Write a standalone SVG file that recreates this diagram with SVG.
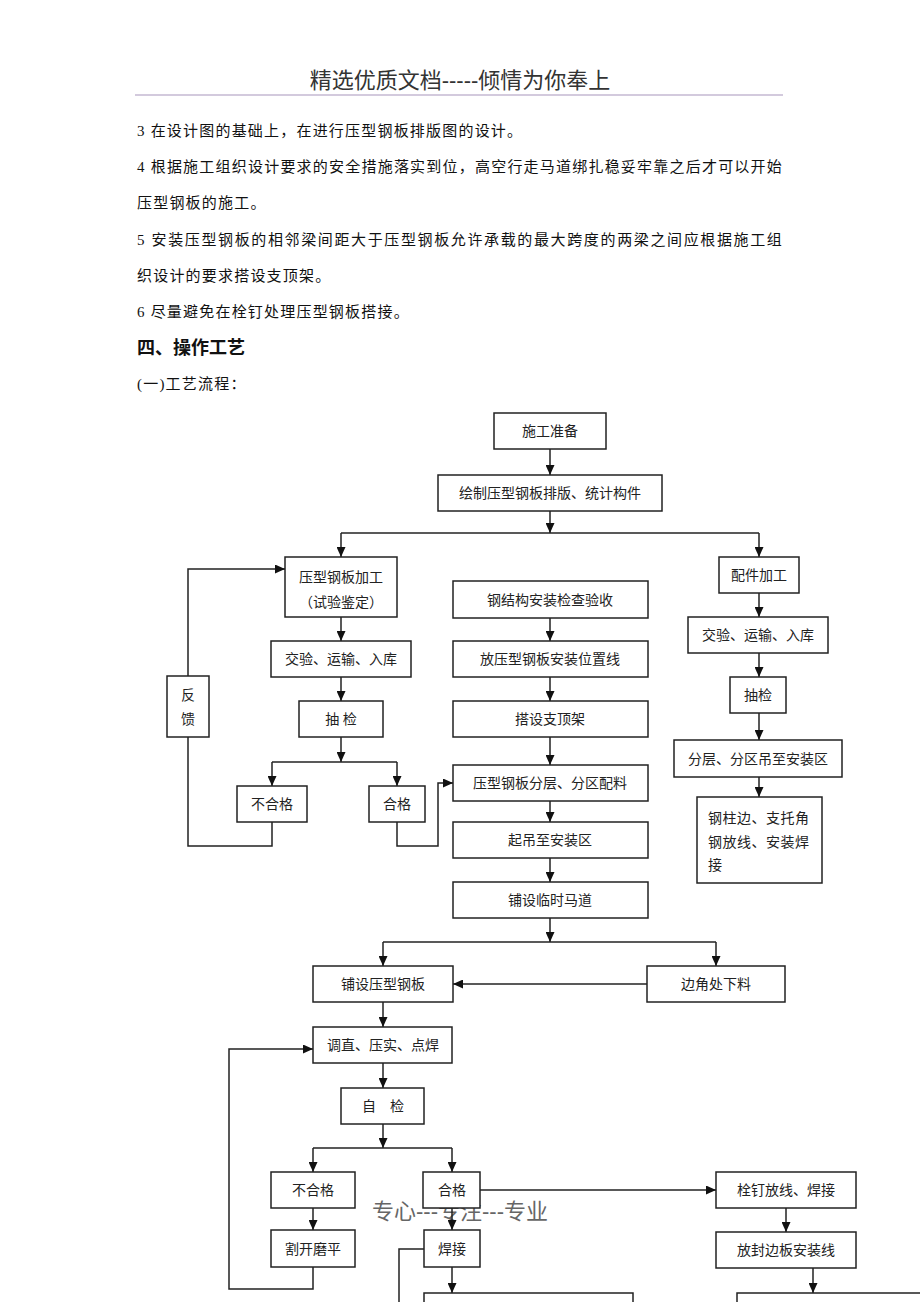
<svg xmlns="http://www.w3.org/2000/svg" width="920" height="1302" viewBox="0 0 920 1302">
<style>
.body{font-family:"Liberation Serif","Noto Sans CJK SC",serif;font-size:15px;fill:#111;letter-spacing:1.2px}
.hd{font-family:"Liberation Sans","Noto Sans CJK SC",sans-serif;font-size:22px;fill:#333}
.h2{font-family:"Liberation Sans","Noto Sans CJK SC",sans-serif;font-size:18px;font-weight:bold;fill:#111}
.box{fill:#fff;stroke:#222;stroke-width:1.5}
.t{font-family:"Liberation Serif","Noto Sans CJK SC",serif;font-size:14px;fill:#222;text-anchor:middle}
.tl{font-family:"Liberation Serif","Noto Sans CJK SC",serif;font-size:14px;fill:#222;letter-spacing:0.5px}
.c{fill:none;stroke:#222;stroke-width:1.5}
.wm{font-family:"Liberation Sans","Noto Sans CJK SC",sans-serif;font-size:22px;fill:#666;text-anchor:middle}
</style>
<defs>
<marker id="ah" markerUnits="userSpaceOnUse" markerWidth="10" markerHeight="9" refX="10" refY="4.5" orient="auto" viewBox="0 0 10 9">
<path d="M0,0 L10,4.5 L0,9 z" fill="#111"/>
</marker>
</defs>
<rect width="920" height="1302" fill="#fff"/>
<g id="header">
<text class="hd" x="460" y="88" text-anchor="middle">精选优质文档-----倾情为你奉上</text>
<line x1="135" y1="95" x2="783" y2="95" stroke="#c4b8d2" stroke-width="1.5"/>
</g>
<g id="bodytext">
<text class="body" x="137" y="136">3 在设计图的基础上，在进行压型钢板排版图的设计。</text>
<text class="body" x="137" y="172" textLength="646" lengthAdjust="spacing">4 根据施工组织设计要求的安全措施落实到位，高空行走马道绑扎稳妥牢靠之后才可以开始</text>
<text class="body" x="137" y="208">压型钢板的施工。</text>
<text class="body" x="137" y="245" textLength="646" lengthAdjust="spacing">5 安装压型钢板的相邻梁间距大于压型钢板允许承载的最大跨度的两梁之间应根据施工组</text>
<text class="body" x="137" y="281">织设计的要求搭设支顶架。</text>
<text class="body" x="137" y="317">6 尽量避免在栓钉处理压型钢板搭接。</text>
<text class="h2" x="137" y="354">四、操作工艺</text>
<text class="body" x="137" y="389">(一)工艺流程：</text>
</g>
<text class="wm" x="460" y="1219">专心---专注---专业</text>
<g id="connectors">
<path class="c" d="M550,449 V475" marker-end="url(#ah)"/>
<path class="c" d="M550,511 V533" marker-end="url(#ah)"/>
<path class="c" d="M341,533 H759"/>
<path class="c" d="M341,533 V557" marker-end="url(#ah)"/>
<path class="c" d="M759,533 V557" marker-end="url(#ah)"/>
<path class="c" d="M341,617 V641" marker-end="url(#ah)"/>
<path class="c" d="M550,618 V641" marker-end="url(#ah)"/>
<path class="c" d="M759,593 V617" marker-end="url(#ah)"/>
<path class="c" d="M341,677 V701" marker-end="url(#ah)"/>
<path class="c" d="M550,677 V701" marker-end="url(#ah)"/>
<path class="c" d="M759,653 V677" marker-end="url(#ah)"/>
<path class="c" d="M341,737 V762" marker-end="url(#ah)"/>
<path class="c" d="M272,762 H397"/>
<path class="c" d="M272,762 V786" marker-end="url(#ah)"/>
<path class="c" d="M397,762 V786" marker-end="url(#ah)"/>
<path class="c" d="M550,737 V765" marker-end="url(#ah)"/>
<path class="c" d="M759,713 V740" marker-end="url(#ah)"/>
<path class="c" d="M759,777 V797" marker-end="url(#ah)"/>
<path class="c" d="M550,801 V822" marker-end="url(#ah)"/>
<path class="c" d="M550,858 V882" marker-end="url(#ah)"/>
<path class="c" d="M550,918 V942" marker-end="url(#ah)"/>
<path class="c" d="M383,942 H716"/>
<path class="c" d="M383,942 V966" marker-end="url(#ah)"/>
<path class="c" d="M716,942 V966" marker-end="url(#ah)"/>
<path class="c" d="M647,984 H453" marker-end="url(#ah)"/>
<path class="c" d="M383,1002 V1027" marker-end="url(#ah)"/>
<path class="c" d="M383,1063 V1088" marker-end="url(#ah)"/>
<path class="c" d="M383,1124 V1148" marker-end="url(#ah)"/>
<path class="c" d="M313,1148 H452"/>
<path class="c" d="M313,1148 V1172" marker-end="url(#ah)"/>
<path class="c" d="M452,1148 V1172" marker-end="url(#ah)"/>
<path class="c" d="M480,1190 H716" marker-end="url(#ah)"/>
<path class="c" d="M313,1208 V1230" marker-end="url(#ah)"/>
<path class="c" d="M452,1208 V1230" marker-end="url(#ah)"/>
<path class="c" d="M786,1208 V1232" marker-end="url(#ah)"/>
<path class="c" d="M452,1267 V1293" marker-end="url(#ah)"/>
<path class="c" d="M813,1268 V1293" marker-end="url(#ah)"/>
<path class="c" d="M313,1267 V1289 H229 V1049 H313" marker-end="url(#ah)"/>
<path class="c" d="M424,1249 H399 V1302"/>
<path class="c" d="M272,822 V846 H188 V737"/>
<path class="c" d="M188,676 V569 H285" marker-end="url(#ah)"/>
<path class="c" d="M397,822 V846 H438 V783 H453" marker-end="url(#ah)"/>
</g>
<g id="n1"><rect class="box" x="494" y="413" width="112" height="36"/><text class="t" x="550" y="436">施工准备</text></g>
<g id="n2"><rect class="box" x="438" y="475" width="224" height="36"/><text class="t" x="550" y="498">绘制压型钢板排版、统计构件</text></g>
<g id="n3"><rect class="box" x="285" y="557" width="112" height="60"/><text class="t" x="341" y="582">压型钢板加工</text><text class="t" x="341" y="607">（试验鉴定）</text></g>
<g id="n4"><rect class="box" x="453" y="581" width="195" height="37"/><text class="t" x="550" y="605">钢结构安装检查验收</text></g>
<g id="n5"><rect class="box" x="719" y="557" width="80" height="36"/><text class="t" x="759" y="580">配件加工</text></g>
<g id="n6"><rect class="box" x="271" y="641" width="140" height="36"/><text class="t" x="341" y="664">交验、运输、入库</text></g>
<g id="n7"><rect class="box" x="453" y="641" width="195" height="36"/><text class="t" x="550" y="664">放压型钢板安装位置线</text></g>
<g id="n8"><rect class="box" x="688" y="617" width="140" height="36"/><text class="t" x="758" y="640">交验、运输、入库</text></g>
<g id="n9"><rect class="box" x="167" y="676" width="42" height="61"/><text class="t" x="188" y="700">反</text><text class="t" x="188" y="724">馈</text></g>
<g id="n10"><rect class="box" x="299" y="701" width="84" height="36"/><text class="t" x="341" y="724">抽 检</text></g>
<g id="n11"><rect class="box" x="453" y="701" width="195" height="36"/><text class="t" x="550" y="724">搭设支顶架</text></g>
<g id="n12"><rect class="box" x="730" y="677" width="56" height="36"/><text class="t" x="758" y="700">抽检</text></g>
<g id="n13"><rect class="box" x="237" y="786" width="70" height="36"/><text class="t" x="272" y="809">不合格</text></g>
<g id="n14"><rect class="box" x="369" y="786" width="56" height="36"/><text class="t" x="397" y="809">合格</text></g>
<g id="n15"><rect class="box" x="453" y="765" width="195" height="36"/><text class="t" x="550" y="788">压型钢板分层、分区配料</text></g>
<g id="n16"><rect class="box" x="674" y="740" width="168" height="37"/><text class="t" x="758" y="764">分层、分区吊至安装区</text></g>
<g id="n17"><rect class="box" x="697" y="797" width="125" height="86"/><text class="tl" x="708" y="823">钢柱边、支托角</text><text class="tl" x="708" y="847">钢放线、安装焊</text><text class="tl" x="708" y="870">接</text></g>
<g id="n18"><rect class="box" x="453" y="822" width="195" height="36"/><text class="t" x="550" y="845">起吊至安装区</text></g>
<g id="n19"><rect class="box" x="453" y="882" width="195" height="36"/><text class="t" x="550" y="905">铺设临时马道</text></g>
<g id="n20"><rect class="box" x="313" y="966" width="140" height="36"/><text class="t" x="383" y="989">铺设压型钢板</text></g>
<g id="n21"><rect class="box" x="647" y="966" width="138" height="36"/><text class="t" x="716" y="989">边角处下料</text></g>
<g id="n22"><rect class="box" x="313" y="1027" width="139" height="36"/><text class="t" x="383" y="1050">调直、压实、点焊</text></g>
<g id="n23"><rect class="box" x="341" y="1088" width="83" height="36"/><text class="t" x="383" y="1111" xml:space="preserve">自    检</text></g>
<g id="n24"><rect class="box" x="271" y="1172" width="84" height="36"/><text class="t" x="313" y="1195">不合格</text></g>
<g id="n25"><rect class="box" x="423" y="1172" width="57" height="36"/><text class="t" x="452" y="1195">合格</text></g>
<g id="n26"><rect class="box" x="716" y="1172" width="140" height="36"/><text class="t" x="786" y="1195">栓钉放线、焊接</text></g>
<g id="n27"><rect class="box" x="271" y="1230" width="84" height="37"/><text class="t" x="313" y="1254">割开磨平</text></g>
<g id="n28"><rect class="box" x="424" y="1230" width="56" height="37"/><text class="t" x="452" y="1254">焊接</text></g>
<g id="n29"><rect class="box" x="716" y="1232" width="140" height="36"/><text class="t" x="786" y="1255">放封边板安装线</text></g>
<g id="n30"><rect class="box" x="424" y="1293" width="209" height="30"/></g>
<g id="n31"><rect class="box" x="737" y="1293" width="200" height="30"/></g>
</svg>
